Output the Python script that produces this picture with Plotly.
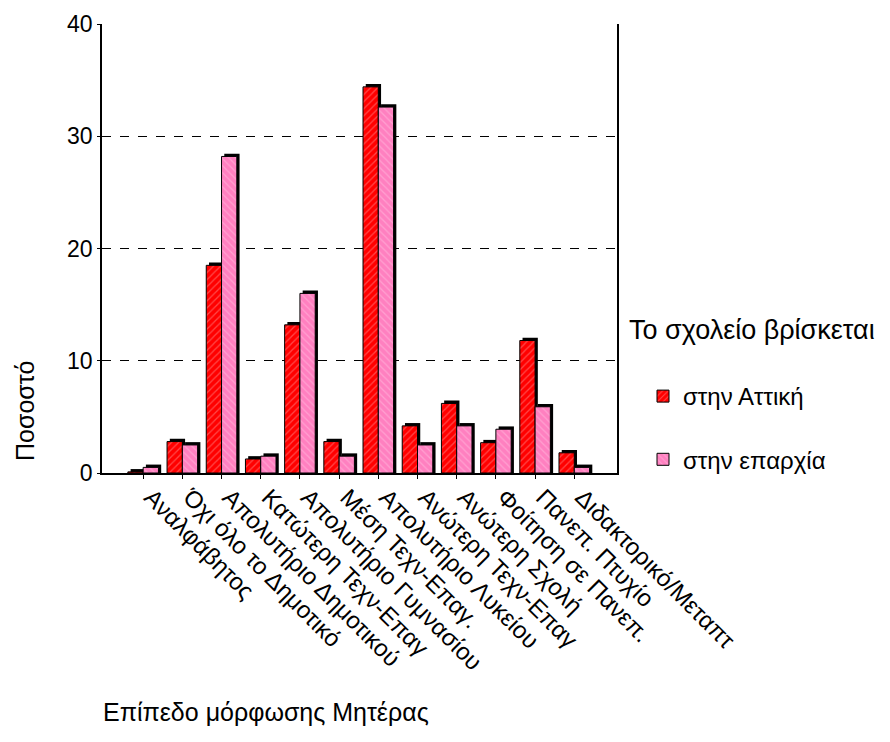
import plotly.graph_objects as go

categories = [
    "Αναλφάβητος",
    "Όχι όλο το Δημοτικό",
    "Απολυτήριο Δημοτικού",
    "Κατώτερη Τεχν-Επαγ",
    "Απολυτήριο Γυμνασίου",
    "Μέση Τεχν-Επαγ.",
    "Απολυτήριο Λυκείου",
    "Ανώτερη Τεχν-Επαγ",
    "Ανώτερη Σχολή",
    "Φοίτηση σε Πανεπ.",
    "Πανεπ. Πτυχίο",
    "Διδακτορικό/Μεταπτ",
]
attiki = [0.1, 2.8, 18.5, 1.25, 13.2, 2.8, 34.4, 4.2, 6.2, 2.7, 11.8, 1.8]
eparxia = [0.5, 2.5, 28.2, 1.5, 16.0, 1.5, 32.6, 2.5, 4.2, 3.9, 5.9, 0.5]
series_names = ["στην Αττική", "στην επαρχία"]
y_ticks = [0, 10, 20, 30, 40]

FONT = "Liberation Sans, Arial, sans-serif"
BW = 0.39
SH_X = 0.07
SH_Y = 0.25

fig = go.Figure()

# drop shadows
for vals, off in [(attiki, -BW), (eparxia, 0.0)]:
    fig.add_trace(go.Bar(
        x=categories, y=[v + SH_Y for v in vals],
        offset=off + SH_X, width=BW,
        marker=dict(color="black", line=dict(width=0)),
        showlegend=False, hoverinfo="skip",
    ))

fig.add_trace(go.Bar(
    x=categories, y=attiki, name=series_names[0],
    offset=-BW, width=BW,
    marker=dict(color="#ff0000", line=dict(color="black", width=1),
                pattern=dict(shape="/", fgcolor="#ff9090", bgcolor="#ff0000",
                             size=5, solidity=0.25)),
    legendgroup="a",
))
fig.add_trace(go.Bar(
    x=categories, y=eparxia, name=series_names[1],
    offset=0.0, width=BW,
    marker=dict(color="#ff80c0", line=dict(color="black", width=1),
                pattern=dict(shape="\\", fgcolor="#ffc0e0", bgcolor="#ff80c0",
                             size=5, solidity=0.25)),
    legendgroup="b",
))

# plot area in figure px (page is offset by 8px body margin)
L, T, R, B = 94, 16, 609, 465
W, H = 890, 742
PW, PH = R - L, B - T


def px_x(x):
    return (x - 8 - L) / PW


def px_y(y):
    return (B - (y - 8)) / PH


fig.update_layout(
    width=W, height=H,
    margin=dict(l=L, r=W - R, t=T, b=H - B, autoexpand=False),
    plot_bgcolor="white", paper_bgcolor="white",
    barmode="overlay",
    font=dict(family=FONT, size=20, color="black"),
    showlegend=True,
    legend=dict(
        x=px_x(643), y=px_y(428), xanchor="left", yanchor="middle",
        font=dict(size=24), tracegroupgap=29,
        bgcolor="rgba(0,0,0,0)",
    ),
    xaxis=dict(
        type="category", range=[-1.05, 12.09], automargin=False,
        tickangle=45, tickfont=dict(size=24),
        ticklabelshift=8, ticklabelstandoff=-5,
        showline=True, linecolor="black", linewidth=1.5,
        ticks="outside", ticklen=4, tickcolor="black",
        showgrid=False, mirror=False,
    ),
    yaxis=dict(
        range=[0, 40], tickvals=y_ticks, automargin=False,
        showline=True, linecolor="black", linewidth=1.5, mirror=True,
        ticks="outside", ticklen=3, tickcolor="black",
        showgrid=True, gridcolor="black", griddash="dash", gridwidth=1,
        zeroline=False, tickfont=dict(size=23),
    ),
    annotations=[
        dict(text="Το σχολείο βρίσκεται", xref="paper", yref="paper",
             x=px_x(627), y=px_y(330), xanchor="left", yanchor="middle",
             showarrow=False, font=dict(size=27)),
        dict(text="Ποσοστό", xref="paper", yref="paper",
             x=px_x(25), y=px_y(411), textangle=-90, xanchor="center",
             yanchor="middle", showarrow=False, font=dict(size=25)),
        dict(text="Επίπεδο μόρφωσης Μητέρας", xref="paper", yref="paper",
             x=px_x(266), y=px_y(712), xanchor="center", yanchor="middle",
             showarrow=False, font=dict(size=25)),
    ],
)

fig.write_html("out.html")
